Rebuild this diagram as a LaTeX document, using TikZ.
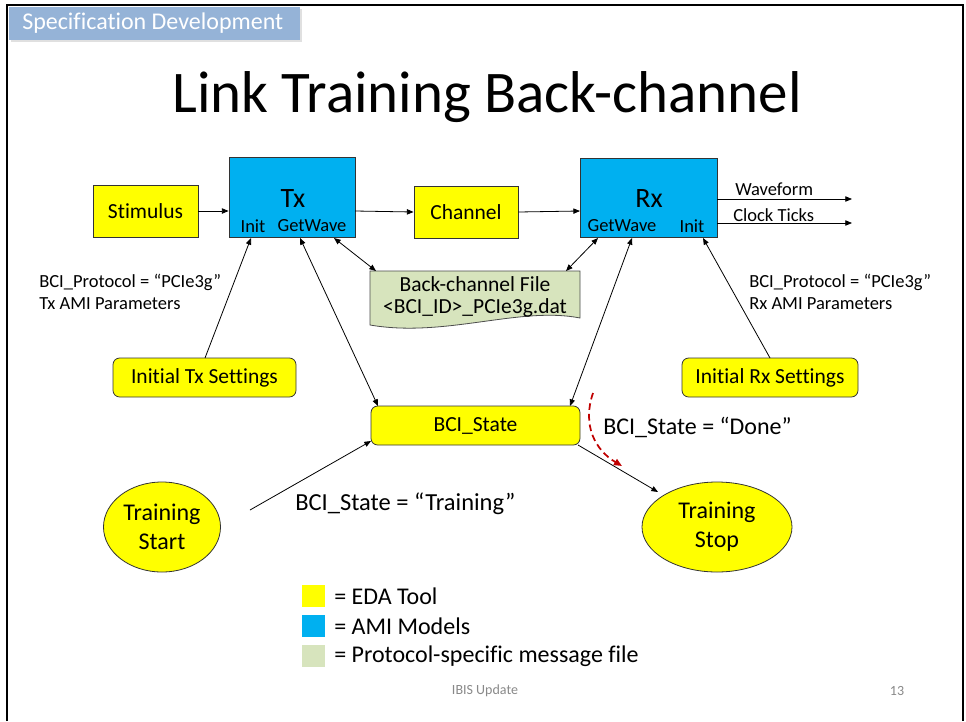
\documentclass[tikz,border=0pt]{standalone}
\usepackage{fontspec}
\setmainfont{Carlito}[Ligatures=CommonOff]
\usetikzlibrary{arrows.meta,shapes.geometric}
\definecolor{edayellow}{RGB}{255,255,0}
\definecolor{amiblue}{RGB}{0,176,240}
\definecolor{filegreen}{RGB}{215,228,189}
\definecolor{banner}{RGB}{149,179,215}
\definecolor{darkred}{RGB}{192,0,0}
\definecolor{footgray}{RGB}{137,137,137}
% font size given in pixel units of the picture (1px = 0.75pt)
\newcommand{\px}[1]{\fontsize{\the\dimexpr #1pt*3/4\relax}{\the\dimexpr #1pt*9/10\relax}\selectfont}
\tikzset{
  tip/.style={-{Triangle[length=5pt,width=4pt]}},
  dtip/.style={{Triangle[length=5pt,width=4pt]}-{Triangle[length=5pt,width=4pt]}},
  conn/.style={line width=0.6pt},
  edabox/.style={draw=black!80, fill=edayellow, line width=0.6pt},
  amibox/.style={draw=black!80, fill=amiblue, line width=0.6pt},
  roundbox/.style={edabox, rounded corners=5pt},
  ellbox/.style={ellipse, edabox, inner sep=0pt, align=center, font=\px{24}},
  lbl/.style={inner sep=0pt, anchor=west},
}
\begin{document}
\begin{tikzpicture}[x=0.75pt,y=-0.75pt]
\useasboundingbox (0,0) rectangle (966,721);
\fill[white] (0,0) rectangle (966,721);
% slide frame
\draw[line width=2pt] (7,721) -- (7,5) -- (963,5) -- (963,721);
% banner
\fill[black!12] (11,9) rectangle (302,42);
\fill[banner] (9,7) rectangle (300,40);
\node[text=white, anchor=west, inner sep=0pt] (ban) at (22,23) {\px{24}Specification Development};
% title
\node (title) at (487,97) {\px{59}Link Training Back-channel};

% main blocks
\node[edabox, minimum width=105*0.75pt, minimum height=52*0.75pt] (stim) at (145.5,211) {\px{21.5}Stimulus};
\node[amibox, minimum width=126*0.75pt, minimum height=80*0.75pt] (tx) at (292,197) {};
\node (txl) at (293,199) {\px{28}Tx};
\node (txinit) at (253,226) {\px{18.5}Init};
\node (txgw) at (312,226) {\px{18.5}GetWave};
\node[edabox, minimum width=104*0.75pt, minimum height=52*0.75pt] (chan) at (466,212) {\px{21.5}Channel};
\node[amibox, minimum width=137*0.75pt, minimum height=79*0.75pt] (rx) at (648.5,197.5) {};
\node (rxl) at (649,199) {\px{28}Rx};
\node (rxgw) at (622,226) {\px{18.5}GetWave};
\node (rxinit) at (692,226) {\px{18.5}Init};

\coordinate (txE) at (355,211);
\coordinate (rxW) at (580,211);
\draw[conn,tip] (stim.east) -- (stim.east -| tx.west);
\draw[conn,tip] (txE) -- (chan.west);
\draw[conn,tip] (chan.east) -- (rxW);

% outputs
\coordinate (wfa) at (717,199);
\coordinate (wfb) at (852,199);
\coordinate (cka) at (717,223);
\coordinate (ckb) at (852,223);
\draw[conn,tip] (wfa) -- (wfb);
\draw[conn,tip] (cka) -- (ckb);
\node[lbl] (wf) at (735,189) {\px{18.5}Waveform};
\node[lbl] (ck) at (733,215) {\px{18.5}Clock Ticks};

% back-channel file
\draw[fill=filegreen, draw=black!70, line width=0.6pt]
  (370,271) -- (580,271) -- (580,318) .. controls (520,306) and (445,338) .. (370,325) -- cycle;
\node (bf1) at (475,284) {\px{21.5}Back-channel File};
\node (bf2) at (475,308) {\px{21.5}<BCI\_ID>\_PCIe3g.dat};
\coordinate (bfTL) at (376,271);
\coordinate (bfTR) at (566,271);
\coordinate (txB) at (334,238);
\coordinate (rxB) at (598,238);
\draw[conn,dtip] (txB) -- (bfTL);
\draw[conn,dtip] (rxB) -- (bfTR);

% initial settings
\node[roundbox, minimum width=183*0.75pt, minimum height=39*0.75pt] (itx) at (204.5,377.5) {\px{21.5}Initial Tx Settings};
\node[roundbox, minimum width=176*0.75pt, minimum height=39*0.75pt] (irx) at (770,377.5) {\px{21.5}Initial Rx Settings};
\coordinate (txInitB) at (251,238);
\coordinate (rxInitB) at (703,238);
\coordinate (itxT) at (205,358);
\coordinate (irxT) at (770,358);
\draw[conn,tip] (itxT) -- (txInitB);
\draw[conn,tip] (irxT) -- (rxInitB);
\node[lbl, align=left, font=\px{18.5}] (txp) at (39,292) {BCI\_Protocol = “PCIe3g”\\Tx AMI Parameters};
\node[lbl, align=left, font=\px{18.5}] (rxp) at (749,292) {BCI\_Protocol = “PCIe3g”\\Rx AMI Parameters};

% BCI state
\node[roundbox, minimum width=209*0.75pt, minimum height=39*0.75pt] (bci) at (475.5,425.5) {\px{21.5}BCI\_State};
\coordinate (txGwB) at (300,238);
\coordinate (rxGwB) at (632,238);
\coordinate (bciTL) at (378,406);
\coordinate (bciTR) at (570,406);
\draw[conn,dtip] (txGwB) -- (bciTL);
\draw[conn,dtip] (rxGwB) -- (bciTR);

% training ellipses
\node[ellbox, minimum width=117*0.75pt, minimum height=90*0.75pt] (tstart) at (162,527) {Training\\Start};
\node[ellbox, minimum width=150*0.75pt, minimum height=90*0.75pt] (tstop) at (717,527) {Training\\Stop};
\coordinate (bciBL) at (371,441);
\coordinate (bciBR) at (578,445);
\coordinate (tsA) at (250,510);
\coordinate (tsB) at (658,492);
\draw[conn,tip] (tsA) -- (bciBL);
\draw[conn,tip] (bciBR) -- (tsB);

\node[lbl] (st1) at (295,504) {\px{24.5}BCI\_State = “Training”};
\node[lbl] (st2) at (603,427) {\px{24}BCI\_State = “Done”};

% done transition
\coordinate (dA) at (593,393);
\coordinate (dB) at (622,466);
\draw[darkred, line width=1.3pt, dashed, dash pattern=on 5pt off 3pt, -{Triangle[length=6pt,width=5pt]}]
  (dA) .. controls (582,425) and (595,450) .. (dB);

% legend
\fill[edayellow] (302,585) rectangle (325,607);
\fill[amiblue] (302,615) rectangle (325,637);
\fill[filegreen] (302,645) rectangle (325,667);
\node[lbl] (lg1) at (334,596) {\px{24}= EDA Tool};
\node[lbl] (lg2) at (334,626) {\px{24}= AMI Models};
\node[lbl] (lg3) at (334,656) {\px{24}= Protocol-specific message file};

% footer
\node[text=footgray] (foot) at (485,691) {\px{14}IBIS Update};
\node[text=footgray] (pg) at (897,691) {\px{14}13};
\end{tikzpicture}
\end{document}
